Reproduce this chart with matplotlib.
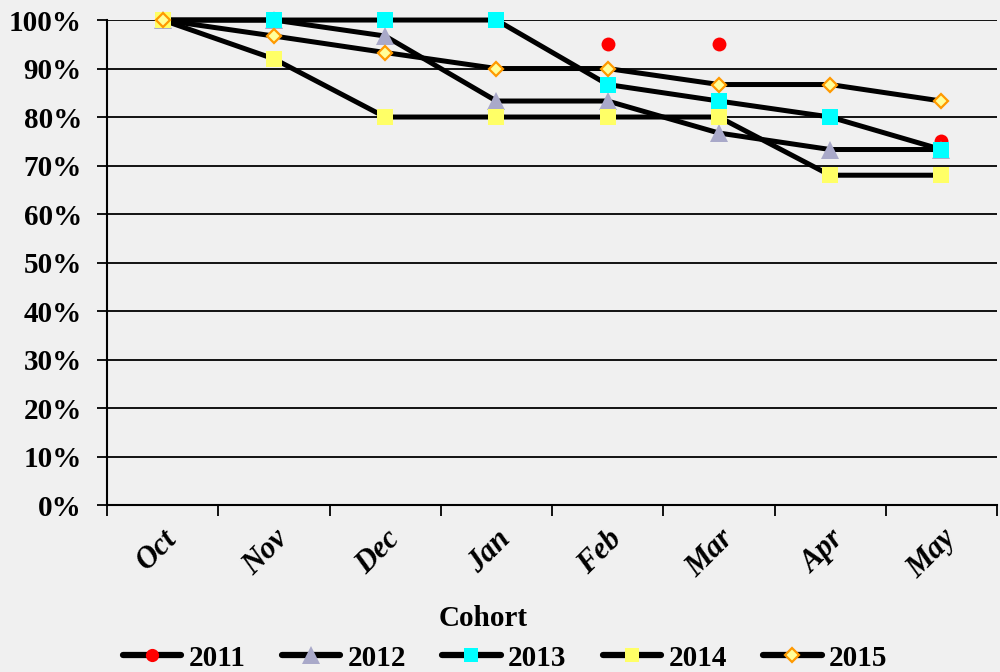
import numpy as np
import matplotlib
matplotlib.use("Agg")
import matplotlib.pyplot as plt
from matplotlib.lines import Line2D

months = ["Oct", "Nov", "Dec", "Jan", "Feb", "Mar", "Apr", "May"]
nan = np.nan
s2011 = [nan, nan, nan, nan, 95.0, 95.0, nan, 75.0]
s2012 = [100.0, 100.0, 96.7, 83.3, 83.3, 76.7, 73.3, 73.3]
s2013 = [100.0, 100.0, 100.0, 100.0, 86.7, 83.3, 80.0, 73.3]
s2014 = [100.0, 92.0, 80.0, 80.0, 80.0, 80.0, 68.0, 68.0]
s2015 = [100.0, 96.7, 93.3, 90.0, 90.0, 86.7, 86.7, 83.3]
series_names = ["2011", "2012", "2013", "2014", "2015"]
yticks = [0, 10, 20, 30, 40, 50, 60, 70, 80, 90, 100]

bg = "#f0f0f0"
plt.rcParams['font.family'] = ['Liberation Serif', 'DejaVu Serif']
plt.rcParams['font.weight'] = 'bold'

fig = plt.figure(figsize=(10, 6.72), dpi=100, facecolor=bg)
ax = fig.add_axes([0.107, 0.2485, 0.89, 0.7217], facecolor=bg)

x = np.arange(len(months))
styles = [
    dict(marker='o', ms=10, mfc='#ff0000', mec='#ff0000', mew=0, line=False),
    dict(marker='^', ms=13, mfc='#a9a9c9', mec='#a9a9c9', mew=0, line=True),
    dict(marker='s', ms=11, mfc='#00ffff', mec='#00ffff', mew=0, line=True),
    dict(marker='s', ms=11, mfc='#ffff66', mec='#ffff66', mew=0, line=True),
    dict(marker='D', ms=7.5, mfc='#ffff99', mec='#ff9900', mew=1.6, line=True),
]
data = [s2011, s2012, s2013, s2014, s2015]

for i, (vals, st) in enumerate(zip(data, styles)):
    v = np.array(vals, dtype=float)
    if st['line']:
        ax.plot(x, v, color='black', lw=3.6, zorder=2, solid_capstyle='butt', clip_on=False)
    ax.plot(x, v, linestyle='none', marker=st['marker'], ms=st['ms'],
            mfc=st['mfc'], mec=st['mec'], mew=st['mew'], zorder=3 + i, clip_on=False)

ax.set_xlim(-0.5, 7.5)
ax.set_ylim(0, 100)
ax.set_yticks(yticks)
ax.set_yticklabels([f"{t}%" for t in yticks], fontsize=21, fontweight='bold')
ax.yaxis.grid(True, color='black', lw=1.3, zorder=1)
ax.tick_params(axis='y', length=7, width=1.3, pad=11, color='black')

ax.set_xticks(x)
ax.set_xticks(np.arange(-0.5, 8.0, 1.0), minor=True)
ax.tick_params(axis='x', which='major', length=0, pad=14)
ax.tick_params(axis='x', which='minor', length=8, width=1.3)
ax.set_xticklabels(months, rotation=45, ha='right', va='top', rotation_mode='anchor',
                   fontsize=22, fontweight='bold', fontstyle='italic')
for lbl in ax.get_xticklabels():
    lbl.set_x(lbl.get_position()[0])

for sp in ['top', 'right']:
    ax.spines[sp].set_visible(False)
ax.spines['left'].set_linewidth(1.5)
ax.spines['bottom'].set_linewidth(1.5)

fig.text(0.483, 1 - 618 / 672, "Cohort", ha='center', va='center', fontsize=21, fontweight='bold')

handles = []
for st in styles:
    handles.append(Line2D([0], [0], color='black', lw=4.5, solid_capstyle='round', marker=st['marker'],
                          ms=st['ms'] * 0.95, mfc=st['mfc'], mec=st['mec'], mew=st['mew']))
leg = fig.legend(handles, series_names, loc='center', bbox_to_anchor=(0.505, 1 - 658 / 672),
                 ncol=5, frameon=False, handlelength=2.0, handletextpad=0.25,
                 columnspacing=1.25, prop={'weight': 'bold', 'size': 21})

fig.savefig("out.png", dpi=100, facecolor=bg)
